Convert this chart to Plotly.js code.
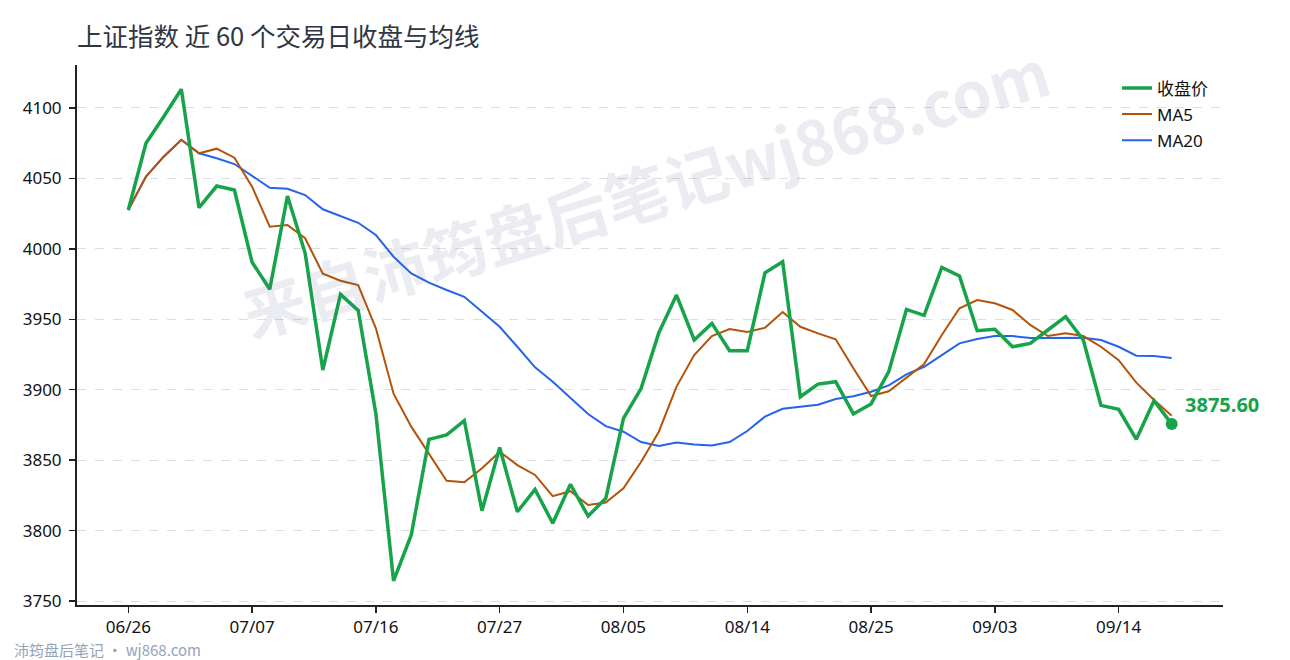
<!DOCTYPE html>
<html>
<head>
<meta charset="utf-8">
<script src="https://cdn.plot.ly/plotly-3.0.1.min.js"></script>
<style>
  html, body { margin: 0; padding: 0; background: #fff; }
  #chart { width: 1290px; height: 660px; }
</style>
</head>
<body>
<div id="chart"></div>
<script>
// trading day labels (60 days)
const dates = [
  '06/26', '06/27', '06/30', '07/01', '07/02', '07/03', '07/04',
  '07/07', '07/08', '07/09', '07/10', '07/11', '07/14', '07/15',
  '07/16', '07/17', '07/18', '07/21', '07/22', '07/23', '07/24',
  '07/27', '07/28', '07/29', '07/30', '07/31', '08/01', '08/04',
  '08/05', '08/06', '08/07', '08/08', '08/11', '08/12', '08/13',
  '08/14', '08/15', '08/18', '08/19', '08/20', '08/21', '08/22',
  '08/25', '08/26', '08/27', '08/28', '08/29', '09/01', '09/02',
  '09/03', '09/04', '09/05', '09/08', '09/09', '09/10', '09/11',
  '09/14', '09/15', '09/16', '09/17'
];

const tickLabels = ['06/26', '07/07', '07/16', '07/27', '08/05', '08/14', '08/25', '09/03', '09/14'];

const close = [
  4027.6, 4074.9, 4093.8, 4113.3, 4029.2, 4044.6, 4041.8, 3990.5, 3971.3, 4037.5,
  3997.0, 3914.0, 3967.7, 3956.3, 3883.0, 3764.4, 3796.9, 3864.8, 3867.9, 3878.0,
  3814.1, 3859.0, 3813.4, 3829.3, 3805.2, 3832.9, 3810.3, 3822.9, 3879.7, 3901.0,
  3940.5, 3967.2, 3935.3, 3947.1, 3927.7, 3927.7, 3983.0, 3990.9, 3895.0, 3904.0,
  3905.7, 3882.8, 3889.9, 3912.8, 3957.0, 3952.8, 3986.9, 3980.7, 3941.9, 3942.9,
  3930.5, 3932.9, 3942.4, 3951.9, 3935.3, 3888.9, 3886.1, 3864.8, 3892.2, 3875.6
];

const ma5 = [
  4027.6, 4051.3, 4065.4, 4077.4, 4067.8, 4071.1, 4064.7, 4044.1, 4015.7, 4016.9,
  4007.5, 3982.4, 3977.4, 3974.3, 3943.6, 3897.2, 3873.8, 3854.9, 3835.4, 3834.3,
  3844.2, 3856.0, 3846.5, 3839.5, 3824.5, 3828.0, 3818.2, 3820.0, 3830.0, 3848.9,
  3870.2, 3902.2, 3924.6, 3938.1, 3943.1, 3941.0, 3944.0, 3955.2, 3944.7, 3940.0,
  3935.8, 3915.2, 3895.5, 3898.9, 3908.5, 3918.3, 3938.8, 3957.8, 3963.7, 3961.4,
  3956.6, 3946.0, 3938.1, 3940.0, 3938.1, 3930.5, 3921.0, 3905.0, 3892.7, 3881.6
];

const ma20 = [
  4027.6, 4051.3, 4065.4, 4077.4, 4067.8, 4064.3, 4060.2, 4051.7, 4043.4, 4042.7,
  4038.2, 4028.1, 4023.2, 4018.5, 4009.8, 3994.4, 3982.6, 3976.0, 3970.8, 3966.0,
  3955.4, 3944.7, 3930.5, 3915.9, 3905.7, 3894.0, 3882.8, 3874.2, 3870.2, 3862.9,
  3860.0, 3862.6, 3861.2, 3860.5, 3862.9, 3870.7, 3880.9, 3886.5, 3888.0, 3889.4,
  3893.4, 3895.4, 3898.6, 3903.1, 3910.9, 3916.3, 3924.6, 3932.9, 3936.0, 3938.1,
  3938.1, 3936.7, 3936.7, 3936.9, 3936.9, 3935.3, 3930.5, 3924.2, 3923.9, 3922.5
];

const GREEN = '#16a34a';
const BROWN = '#b45309';
const BLUE = '#2563eb';
const FONT = '"Noto Sans", "Noto Sans CJK SC", sans-serif';

const last = close.length - 1;

// drawn bottom-up: MA20, MA5, close on top
const traces = [
  {
    x: dates, y: ma20, name: 'MA20', type: 'scatter', mode: 'lines',
    line: { color: BLUE, width: 2 }, legendrank: 3, legendgroup: 'c'
  },
  {
    x: dates, y: ma5, name: 'MA5', type: 'scatter', mode: 'lines',
    line: { color: BROWN, width: 2 }, legendrank: 2, legendgroup: 'b'
  },
  {
    x: dates, y: close, name: '收盘价', type: 'scatter', mode: 'lines',
    line: { color: GREEN, width: 3.5 }, legendrank: 1, legendgroup: 'a'
  },
  {
    x: [dates[last]], y: [close[last]], type: 'scatter', mode: 'markers',
    marker: { color: GREEN, size: 12 }, showlegend: false, hoverinfo: 'skip'
  }
];

const layout = {
  width: 1290,
  height: 660,
  margin: { l: 77, r: 67, t: 65, b: 55 },
  paper_bgcolor: '#fff',
  plot_bgcolor: '#fff',
  font: { family: FONT, size: 17, color: '#111' },
  title: {
    text: '上证指数 近 60 个交易日收盘与均线',
    x: 77 / 1290, xref: 'container', xanchor: 'left',
    y: 1 - 37 / 660, yref: 'container', yanchor: 'middle',
    font: { family: '"Noto Sans CJK SC", sans-serif', size: 25.5, color: '#2f3542' }
  },
  xaxis: {
    type: 'category',
    range: [-2.9, 61.9],
    tickvals: tickLabels,
    ticktext: tickLabels,
    showgrid: false,
    zeroline: false,
    showline: true,
    linecolor: '#222',
    linewidth: 2,
    ticks: 'outside',
    ticklen: 6,
    tickwidth: 1.5,
    tickcolor: '#222',
    ticklabelstandoff: 0,
    tickfont: { family: FONT, size: 17, color: '#111' }
  },
  yaxis: {
    range: [3747.2, 4130.5],
    dtick: 50,
    showgrid: true,
    gridcolor: '#dedede',
    griddash: 'dash',
    gridwidth: 1,
    zeroline: false,
    showline: true,
    linecolor: '#222',
    linewidth: 2,
    ticks: 'outside',
    ticklen: 6,
    tickwidth: 1.5,
    tickcolor: '#222',
    ticklabelstandoff: 4,
    tickfont: { family: FONT, size: 17, color: '#111' }
  },
  showlegend: true,
  legend: {
    x: (1117 - 77) / 1146, xanchor: 'left',
    y: 0.99, yanchor: 'top',
    bgcolor: 'rgba(255,255,255,0)',
    borderwidth: 0,
    traceorder: 'grouped',
    tracegroupgap: 1,
    font: { family: FONT, size: 17, color: '#111' }
  },
  annotations: [
    {
      // watermark
      text: '来自沛筠盘后笔记wj868.com',
      xref: 'paper', yref: 'paper',
      x: 0.496, y: 0.77,
      xanchor: 'center', yanchor: 'middle',
      textangle: -17,
      showarrow: false,
      font: { family: '"Noto Sans CJK SC", sans-serif', size: 63, color: 'rgba(90,100,140,0.12)', weight: 'bold' }
    },
    {
      x: dates[last], y: close[last],
      xref: 'x', yref: 'y',
      text: '<b>' + close[last].toFixed(2) + '</b>',
      showarrow: false,
      xanchor: 'left', yanchor: 'middle',
      xshift: 11, yshift: 20,
      font: { family: FONT, size: 20, color: GREEN }
    },
    {
      text: '沛筠盘后笔记 · wj868.com',
      xref: 'paper', yref: 'paper',
      x: (12 - 77) / 1146, y: (605 - 649) / 540,
      xanchor: 'left', yanchor: 'middle',
      showarrow: false,
      font: { family: '"Noto Sans CJK SC", sans-serif', size: 15, color: '#94a3b8' }
    }
  ]
};

Plotly.newPlot('chart', traces, layout, { displayModeBar: false, staticPlot: true });
</script>
</body>
</html>
